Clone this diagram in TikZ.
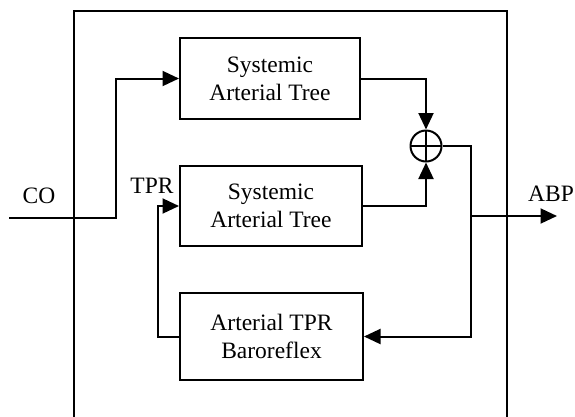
\documentclass[tikz,border=0pt]{standalone}
\usepackage{fontspec}
\setmainfont{Liberation Serif}
\usetikzlibrary{arrows.meta}
\begin{document}
\begin{tikzpicture}[x=1pt, y=-1pt, line width=2pt,
  blk/.style={draw, minimum width=181pt, minimum height=81pt, align=center,
    font=\fontsize{23.5}{28}\selectfont, inner sep=0pt},
  lbl/.style={font=\fontsize{23.5}{27}\selectfont, inner sep=0pt},
  arr/.style={-{Triangle[length=16.5pt,width=15pt]}},
  sumnode/.style={draw, circle, minimum size=31pt, inner sep=0pt,
    path picture={\draw (path picture bounding box.west) -- (path picture bounding box.east)
      (path picture bounding box.north) -- (path picture bounding box.south);}}]
  \useasboundingbox (0,0) rectangle (575,416);

  % enclosing frame, open at the bottom
  \draw (74,420) -- (74,11) -- (507,11) -- (507,420);

  % blocks
  \node[blk, minimum width=180pt] (tree1) at (270,78.5) {Systemic\\Arterial Tree};
  \node[blk, minimum width=182pt, minimum height=80pt] (tree2) at (271,206) {Systemic\\Arterial Tree};
  \node[blk, minimum width=183pt, minimum height=87pt] (baro) at (271.5,336.5) {Arterial TPR\\Baroreflex};
  \node[sumnode] (sum) at (426,146) {};

  % signal labels
  \node[lbl] (co) at (39,196) {CO};
  \node[lbl] (tpr) at (152,186) {TPR};
  \node[lbl] (abpl) at (551,194) {ABP};

  % free ends and branch points
  \coordinate (coin) at (9,218);
  \coordinate (split) at (471,216);
  \coordinate (abp) at (557,216);

  % connectors
  \draw[arr] (coin) -- (116,218) |- (tree1.west);
  \draw[arr] (tree1.east) -| (sum.north);
  \draw[arr] (tree2.east) -| (sum.south);
  \draw[arr] (sum.east) -- (471,146) |- (baro.east);
  \draw[arr] (baro.west) -- (158,336.5) |- (tree2.west);
  \draw[arr] (split) -- (abp);
\end{tikzpicture}
\end{document}
